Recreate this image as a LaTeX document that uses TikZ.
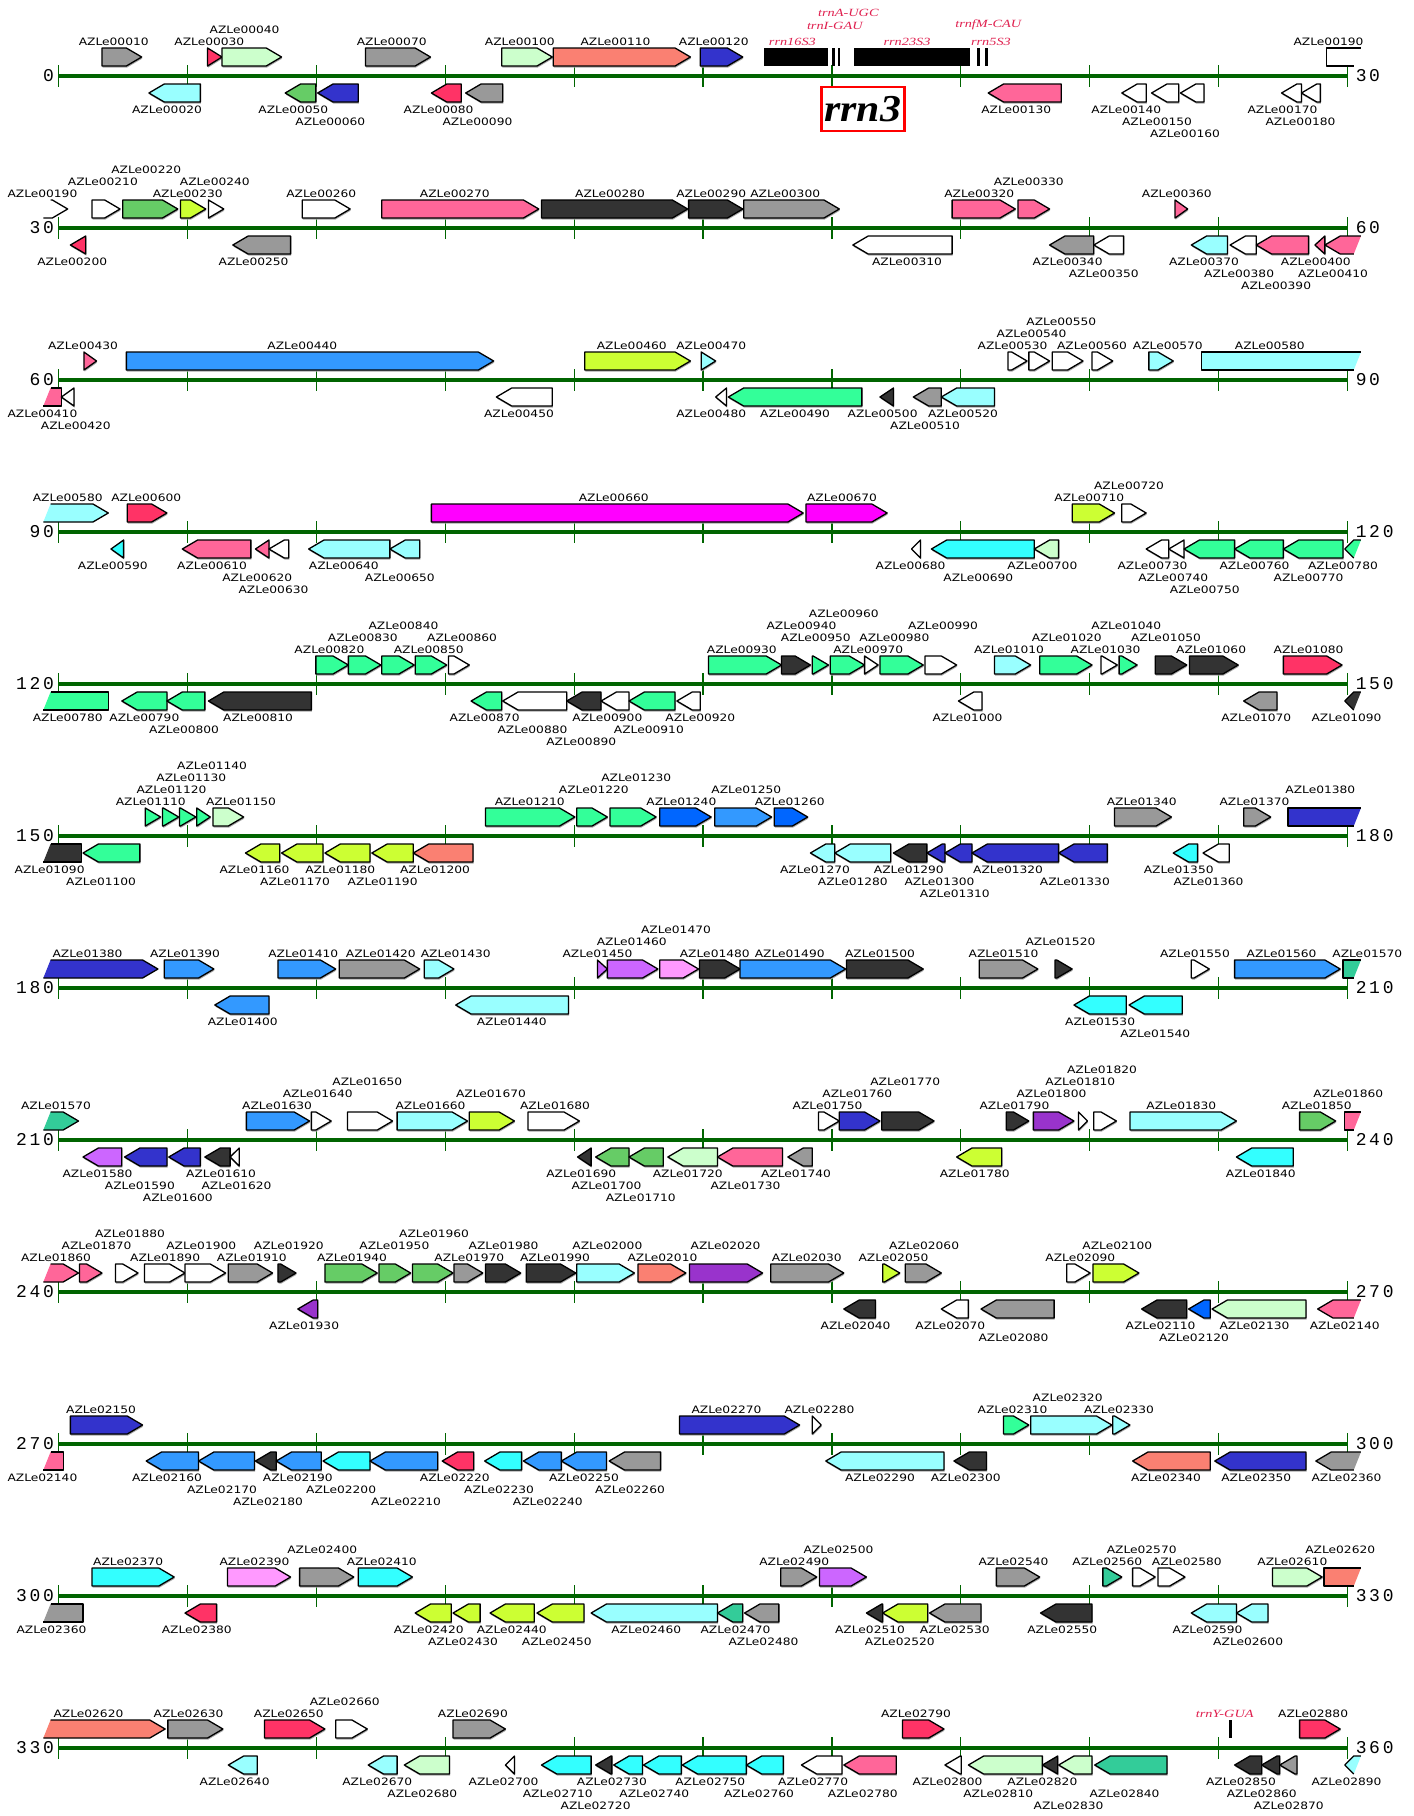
\documentclass[tikz,border=0pt]{standalone}
\usepackage{fontspec}
\usetikzlibrary{shadows}
\newfontfamily\lblfont[FakeStretch=1.2]{DejaVu Sans}
\newfontfamily\trnfont[FakeStretch=1.3]{Liberation Serif}
\newfontfamily\rrnfont[FakeStretch=1.1]{Liberation Serif}
\newfontfamily\numfont[LetterSpace=15]{Liberation Mono}
\definecolor{cgray}{HTML}{999999}
\definecolor{clcyan}{HTML}{99FFFF}
\definecolor{clgreen}{HTML}{CCFFCC}
\definecolor{csalmon}{HTML}{FA8072}
\definecolor{cblue}{HTML}{3333CC}
\definecolor{cred}{HTML}{FF3366}
\definecolor{cpink}{HTML}{FF6699}
\definecolor{cgreen}{HTML}{66CC66}
\definecolor{cyg}{HTML}{CCFF33}
\definecolor{cdark}{HTML}{333333}
\definecolor{cdblue}{HTML}{3399FF}
\definecolor{cmag}{HTML}{FF00FF}
\definecolor{ccyan}{HTML}{33FFFF}
\definecolor{cspring}{HTML}{33FF99}
\definecolor{cbblue}{HTML}{0066FF}
\definecolor{corchid}{HTML}{CC66FF}
\definecolor{clmag}{HTML}{FF99FF}
\definecolor{cdpurple}{HTML}{9933CC}
\definecolor{caqua}{HTML}{33CC99}
\definecolor{axisgreen}{HTML}{006400}
\definecolor{trnred}{HTML}{E0204F}
\tikzset{
  lbl/.style={font=\lblfont\fontsize{10.2}{11}\selectfont, inner sep=0pt, text=black},
  trn/.style={font=\trnfont\itshape\fontsize{11}{12}\selectfont, inner sep=0pt, text=trnred},
  num/.style={font=\numfont\fontsize{18}{18}\selectfont, inner sep=0pt},
  gshadow/.style={drop shadow={shadow xshift=0.6pt,shadow yshift=-1.6pt,opacity=1,fill=black!35}},
  gene/.style={draw=black, line width=1.3pt, line join=round, gshadow},
  genefill/.style={draw=none},
  geneline/.style={draw=black, line width=1.3pt, line join=round},
  axisline/.style={axisgreen, line width=4.5pt},
  tickline/.style={axisgreen, line width=1.3pt},
}
\newcommand\rowY{76}
\newcommand\gtop{\pgfmathsetmacro\gYt{\rowY-28}\pgfmathsetmacro\gYb{\rowY-10}\pgfmathsetmacro\gYm{\rowY-19}\def\gS{-1}}
\newcommand\gbot{\pgfmathsetmacro\gYt{\rowY+8}\pgfmathsetmacro\gYb{\rowY+26}\pgfmathsetmacro\gYm{\rowY+17}\def\gS{1}}
\newcommand\glab[3]{\pgfmathsetmacro\gLy{\rowY+\gS*(34+12*(#1-1))}\node[lbl] (g#3r\rowY) at (#2,\gLy) {AZLe#3};}
% plus strand
\newcommand\GP[6]{\gtop\pgfmathsetmacro\gXh{max(#1,#2-17)}%
  \path[gene,fill=#3] (#1,\gYt) -- (\gXh,\gYt) -- (#2,\gYm) -- (\gXh,\gYb) -- (#1,\gYb) -- cycle;\glab{#4}{#5}{#6}}
% minus strand
\newcommand\GM[6]{\gbot\pgfmathsetmacro\gXh{min(#2,#1+17)}%
  \path[gene,fill=#3] (#2,\gYt) -- (\gXh,\gYt) -- (#1,\gYm) -- (\gXh,\gYb) -- (#2,\gYb) -- cycle;\glab{#4}{#5}{#6}}
% plus strand, cut at right
\newcommand\GPR[6]{\gtop\pgfmathsetmacro\gXc{#2-8}%
  \path[genefill,fill=#3] (#1,\gYt) -- (#2,\gYt) -- (\gXc,\gYb) -- (#1,\gYb) -- cycle;
  \draw[geneline] (#2,\gYt) -- (#1,\gYt) -- (#1,\gYb) -- (\gXc,\gYb);\glab{#4}{#5}{#6}}
% plus strand, cut at left
\newcommand\GPL[6]{\gtop\pgfmathsetmacro\gXc{#1+8}\pgfmathsetmacro\gXh{max(#1+8,#2-17)}%
  \path[genefill,fill=#3] (\gXc,\gYt) -- (\gXh,\gYt) -- (#2,\gYm) -- (\gXh,\gYb) -- (#1,\gYb) -- cycle;
  \draw[geneline] (\gXc,\gYt) -- (\gXh,\gYt) -- (#2,\gYm) -- (\gXh,\gYb) -- (#1,\gYb);\glab{#4}{#5}{#6}}
% minus strand, cut at right
\newcommand\GMR[6]{\gbot\pgfmathsetmacro\gXc{#2-8}\pgfmathsetmacro\gXh{min(#1+17,#2-8)}%
  \path[genefill,fill=#3] (\gXh,\gYt) -- (#2,\gYt) -- (\gXc,\gYb) -- (\gXh,\gYb) -- (#1,\gYm) -- cycle;
  \draw[geneline] (#2,\gYt) -- (\gXh,\gYt) -- (#1,\gYm) -- (\gXh,\gYb) -- (\gXc,\gYb);\glab{#4}{#5}{#6}}
% minus strand, cut at left
\newcommand\GML[6]{\gbot\pgfmathsetmacro\gXc{#1+8}%
  \path[genefill,fill=#3] (\gXc,\gYt) -- (#2,\gYt) -- (#2,\gYb) -- (#1,\gYb) -- cycle;
  \draw[geneline] (\gXc,\gYt) -- (#2,\gYt) -- (#2,\gYb) -- (#1,\gYb);\glab{#4}{#5}{#6}}
\newcommand\drawrow[3]{\renewcommand\rowY{#1}%
  \draw[axisline] (65,#1) -- (1493,#1);
  \foreach \k in {0,...,10} {\draw[tickline] ({65+142.8*\k},#1-11) -- ({65+142.8*\k},#1+11);}
  \node[num,anchor=east] (numL#1) at (60,#1) {#2};
  \node[num,anchor=west] (numR#1) at (1502,#1) {#3};}
\begin{document}
\begin{tikzpicture}[x=0.9025pt,y=-1pt]
\useasboundingbox (0,0) rectangle (1566.7,1816);
\fill[white] (0,0) rectangle (1566.7,1816);
% ---------------- row 1
\drawrow{76}{0}{30}
\GP{113}{157}{cgray}{1}{126}{00010}
\GP{230}{246}{cred}{1}{232}{00030}
\GP{246}{312}{clgreen}{2}{271}{00040}
\GP{405}{477}{cgray}{1}{434}{00070}
\GP{556}{612}{clgreen}{1}{576}{00100}
\GP{613}{765}{csalmon}{1}{682}{00110}
\GP{776}{823}{cblue}{1}{791}{00120}
\GPR{1470}{1508}{white}{1}{1472}{00190}
\GM{165}{222}{clcyan}{1}{185}{00020}
\GM{316}{350}{cgreen}{1}{325}{00050}
\GM{352}{397}{cblue}{2}{366}{00060}
\GM{478}{511}{cred}{1}{486}{00080}
\GM{516}{557}{cgray}{2}{529}{00090}
\GM{1095}{1176}{cpink}{1}{1126}{00130}
\GM{1243}{1270}{white}{1}{1248}{00140}
\GM{1276}{1306}{white}{2}{1282}{00150}
\GM{1308}{1334}{white}{3}{1313}{00160}
\GM{1420}{1442}{white}{1}{1421}{00170}
\GM{1442}{1463}{white}{2}{1441}{00180}
\fill[black] (847,48) rectangle (917,66);
\fill[black] (922,48) rectangle (925,66);
\fill[black] (928,48) rectangle (931,66);
\fill[black] (946,48) rectangle (1075,66);
\fill[black] (1082,48) rectangle (1086,66);
\fill[black] (1091,48) rectangle (1095,66);
\node[trn] (t16S) at (878,42) {rrn16S3};
\node[trn] (tIGAU) at (925,25.5) {trnI-GAU};
\node[trn] (tAUGC) at (940,13) {trnA-UGC};
\node[trn] (t23S) at (1005,42) {rrn23S3};
\node[trn] (tfM) at (1095,24.5) {trnfM-CAU};
\node[trn] (t5S) at (1098,42) {rrn5S3};
\node[draw=red, line width=2.5pt, fill=white, minimum width=83pt, minimum height=44pt, inner sep=0pt,
      font=\rrnfont\bfseries\itshape\fontsize{38}{38}\selectfont] (rrnbox) at (956,109) {rrn3};
% ---------------- row 2
\drawrow{228}{30}{60}
\GPL{48}{75}{white}{1}{47}{00190}
\GP{102}{133}{white}{2}{114}{00210}
\GP{136}{197}{cgreen}{3}{162}{00220}
\GP{200}{228}{cyg}{1}{208}{00230}
\GP{231}{248}{white}{2}{238}{00240}
\GP{335}{388}{white}{1}{356}{00260}
\GP{423}{597}{cpink}{1}{504}{00270}
\GP{600}{762}{cdark}{1}{676}{00280}
\GP{763}{823}{cdark}{1}{788}{00290}
\GP{824}{930}{cgray}{1}{870}{00300}
\GP{1055}{1125}{cpink}{1}{1085}{00320}
\GP{1128}{1163}{cpink}{2}{1140}{00330}
\GP{1302}{1316}{cpink}{1}{1304}{00360}
\GM{78}{95}{cred}{1}{80}{00200}
\GM{258}{322}{cgray}{1}{281}{00250}
\GM{945}{1055}{white}{1}{1005}{00310}
\GM{1163}{1212}{cgray}{1}{1183}{00340}
\GM{1212}{1245}{white}{2}{1223}{00350}
\GM{1320}{1360}{clcyan}{1}{1334}{00370}
\GM{1363}{1392}{white}{2}{1373}{00380}
\GM{1392}{1450}{cpink}{3}{1414}{00390}
\GM{1457}{1468}{cpink}{1}{1458}{00400}
\GMR{1468}{1508}{cpink}{2}{1477}{00410}
% ---------------- row 3
\drawrow{380}{60}{90}
\GP{93}{107}{cpink}{1}{92}{00430}
\GP{140}{547}{cdblue}{1}{335}{00440}
\GP{648}{765}{cyg}{1}{700}{00460}
\GP{777}{793}{clcyan}{1}{788}{00470}
\GP{1117}{1138}{white}{1}{1122}{00530}
\GP{1140}{1163}{white}{2}{1143}{00540}
\GP{1166}{1200}{white}{3}{1176}{00550}
\GP{1210}{1233}{white}{1}{1210}{00560}
\GP{1273}{1300}{clcyan}{1}{1294}{00570}
\GPR{1331}{1508}{clcyan}{1}{1407}{00580}
\GML{48}{68}{cpink}{1}{47}{00410}
\GM{68}{82}{white}{2}{84}{00420}
\GM{550}{612}{white}{1}{575}{00450}
\GM{793}{805}{white}{1}{788}{00480}
\GM{807}{955}{cspring}{1}{881}{00490}
\GM{975}{990}{cdark}{1}{978}{00500}
\GM{1012}{1043}{cgray}{2}{1025}{00510}
\GM{1043}{1102}{clcyan}{1}{1067}{00520}
% ---------------- row 4
\drawrow{532}{90}{120}
\GPL{48}{120}{clcyan}{1}{75}{00580}
\GP{141}{185}{cred}{1}{162}{00600}
\GP{478}{890}{cmag}{1}{680}{00660}
\GP{893}{983}{cmag}{1}{933}{00670}
\GP{1188}{1235}{cyg}{1}{1207}{00710}
\GP{1243}{1270}{white}{2}{1251}{00720}
\GM{123}{137}{ccyan}{1}{125}{00590}
\GM{202}{278}{cpink}{1}{235}{00610}
\GM{283}{298}{cpink}{2}{285}{00620}
\GM{298}{320}{white}{3}{303}{00630}
\GM{342}{432}{clcyan}{1}{381}{00640}
\GM{432}{465}{clcyan}{2}{443}{00650}
\GM{1010}{1020}{white}{1}{1009}{00680}
\GM{1032}{1146}{ccyan}{2}{1084}{00690}
\GM{1146}{1173}{clgreen}{1}{1155}{00700}
\GM{1270}{1295}{white}{1}{1277}{00730}
\GM{1295}{1312}{white}{2}{1300}{00740}
\GM{1312}{1368}{cspring}{3}{1335}{00750}
\GM{1368}{1422}{cspring}{1}{1390}{00760}
\GM{1422}{1488}{cspring}{2}{1450}{00770}
\GMR{1490}{1508}{cspring}{1}{1488}{00780}
% ---------------- row 5
\drawrow{684}{120}{150}
\GP{350}{386}{cspring}{1}{365}{00820}
\GP{386}{422}{cspring}{2}{402}{00830}
\GP{423}{459}{cspring}{3}{447}{00840}
\GP{460}{495}{cspring}{1}{475}{00850}
\GP{497}{520}{white}{2}{512}{00860}
\GP{785}{866}{cspring}{1}{822}{00930}
\GP{866}{898}{cdark}{3}{888}{00940}
\GP{900}{918}{cspring}{2}{904}{00950}
\GP{920}{958}{cspring}{4}{935}{00960}
\GP{958}{973}{white}{1}{962}{00970}
\GP{975}{1023}{cspring}{2}{991}{00980}
\GP{1025}{1060}{white}{3}{1045}{00990}
\GP{1102}{1142}{clcyan}{1}{1118}{01010}
\GP{1152}{1210}{cspring}{2}{1182}{01020}
\GP{1220}{1238}{white}{1}{1225}{01030}
\GP{1240}{1260}{cspring}{3}{1248}{01040}
\GP{1280}{1315}{cdark}{2}{1292}{01050}
\GP{1318}{1372}{cdark}{1}{1342}{01060}
\GP{1422}{1487}{cred}{1}{1450}{01080}
\GML{48}{120}{cspring}{1}{75}{00780}
\GM{135}{185}{cspring}{1}{160}{00790}
\GM{185}{227}{cspring}{2}{204}{00800}
\GM{231}{345}{cdark}{1}{286}{00810}
\GM{522}{556}{cspring}{1}{537}{00870}
\GM{557}{628}{white}{2}{590}{00880}
\GM{628}{666}{cdark}{3}{644}{00890}
\GM{666}{697}{white}{1}{673}{00900}
\GM{697}{748}{cspring}{2}{719}{00910}
\GM{750}{776}{white}{1}{776}{00920}
\GM{1062}{1088}{white}{1}{1072}{01000}
\GM{1378}{1415}{cgray}{1}{1392}{01070}
\GMR{1490}{1508}{cdark}{1}{1492}{01090}
% ---------------- row 6
\drawrow{836}{150}{180}
\GP{161}{178}{cspring}{1}{167}{01110}
\GP{180}{198}{cspring}{2}{190}{01120}
\GP{199}{217}{cspring}{3}{212}{01130}
\GP{218}{233}{cspring}{4}{235}{01140}
\GP{236}{270}{clgreen}{1}{267}{01150}
\GP{538}{637}{cspring}{1}{587}{01210}
\GP{639}{673}{cspring}{2}{658}{01220}
\GP{676}{727}{cspring}{3}{705}{01230}
\GP{731}{788}{cbblue}{1}{755}{01240}
\GP{792}{855}{cdblue}{2}{827}{01250}
\GP{858}{895}{cbblue}{1}{875}{01260}
\GP{1235}{1298}{cgray}{1}{1265}{01340}
\GP{1378}{1408}{cgray}{1}{1390}{01370}
\GPR{1427}{1508}{cblue}{2}{1463}{01380}
\GML{48}{90}{cdark}{1}{55}{01090}
\GM{92}{155}{cspring}{2}{112}{01100}
\GM{272}{310}{cyg}{1}{282}{01160}
\GM{312}{358}{cyg}{2}{327}{01170}
\GM{360}{410}{cyg}{1}{377}{01180}
\GM{412}{458}{cyg}{2}{424}{01190}
\GM{458}{524}{csalmon}{1}{482}{01200}
\GM{898}{925}{clcyan}{1}{903}{01270}
\GM{925}{987}{clcyan}{2}{945}{01280}
\GM{990}{1027}{cdark}{1}{1007}{01290}
\GM{1027}{1047}{cblue}{2}{1041}{01300}
\GM{1047}{1077}{cblue}{3}{1058}{01310}
\GM{1077}{1173}{cblue}{1}{1117}{01320}
\GM{1173}{1227}{cblue}{2}{1191}{01330}
\GM{1300}{1327}{ccyan}{1}{1306}{01350}
\GM{1333}{1362}{white}{2}{1339}{01360}
% ---------------- row 7
\drawrow{988}{180}{210}
\GPL{48}{175}{cblue}{1}{97}{01380}
\GP{182}{237}{cdblue}{1}{205}{01390}
\GP{308}{372}{cdblue}{1}{336}{01410}
\GP{376}{465}{cgray}{1}{422}{01420}
\GP{470}{503}{clcyan}{1}{505}{01430}
\GP{662}{673}{corchid}{1}{662}{01450}
\GP{673}{729}{corchid}{2}{700}{01460}
\GP{731}{774}{clmag}{3}{749}{01470}
\GP{775}{820}{cdark}{1}{792}{01480}
\GP{820}{937}{cdblue}{1}{875}{01490}
\GP{938}{1023}{cdark}{1}{975}{01500}
\GP{1085}{1150}{cgray}{1}{1112}{01510}
\GP{1169}{1188}{cdark}{2}{1175}{01520}
\GP{1320}{1340}{white}{1}{1324}{01550}
\GP{1368}{1485}{cdblue}{1}{1420}{01560}
\GPR{1488}{1508}{caqua}{1}{1515}{01570}
\GM{238}{298}{cdblue}{1}{269}{01400}
\GM{505}{630}{clcyan}{1}{567}{01440}
\GM{1190}{1248}{ccyan}{1}{1219}{01530}
\GM{1251}{1310}{ccyan}{2}{1280}{01540}
% ---------------- row 8
\drawrow{1140}{210}{240}
\GPL{48}{87}{caqua}{1}{62}{01570}
\GP{273}{343}{cdblue}{1}{307}{01630}
\GP{345}{367}{white}{2}{352}{01640}
\GP{385}{435}{white}{3}{407}{01650}
\GP{440}{518}{clcyan}{1}{477}{01660}
\GP{520}{570}{cyg}{2}{544}{01670}
\GP{585}{642}{white}{1}{615}{01680}
\GP{907}{930}{white}{1}{917}{01750}
\GP{930}{975}{cblue}{2}{950}{01760}
\GP{977}{1035}{cdark}{3}{1003}{01770}
\GP{1115}{1140}{cdark}{1}{1124}{01790}
\GP{1145}{1190}{cdpurple}{2}{1165}{01800}
\GP{1195}{1205}{white}{3}{1197}{01810}
\GP{1212}{1237}{white}{4}{1221}{01820}
\GP{1252}{1370}{clcyan}{1}{1309}{01830}
\GP{1440}{1480}{cgreen}{1}{1459}{01850}
\GPR{1490}{1508}{cpink}{2}{1494}{01860}
\GM{92}{135}{corchid}{1}{108}{01580}
\GM{138}{185}{cblue}{2}{155}{01590}
\GM{187}{222}{cblue}{3}{197}{01600}
\GM{227}{255}{cdark}{1}{245}{01610}
\GM{255}{265}{white}{2}{262}{01620}
\GM{640}{655}{cdark}{1}{644}{01690}
\GM{660}{697}{cgreen}{2}{672}{01700}
\GM{697}{735}{cgreen}{3}{710}{01710}
\GM{740}{795}{clgreen}{1}{762}{01720}
\GM{795}{867}{cpink}{2}{826}{01730}
\GM{873}{900}{cgray}{1}{882}{01740}
\GM{1060}{1110}{cyg}{1}{1080}{01780}
\GM{1370}{1433}{ccyan}{1}{1397}{01840}
% ---------------- row 9
\drawrow{1292}{240}{270}
\GPL{48}{87}{cpink}{1}{62}{01860}
\GP{88}{113}{cpink}{2}{107}{01870}
\GP{128}{153}{white}{3}{144}{01880}
\GP{160}{205}{white}{1}{183}{01890}
\GP{205}{250}{white}{2}{223}{01900}
\GP{253}{302}{cgray}{1}{279}{01910}
\GP{308}{328}{cdark}{2}{320}{01920}
\GP{360}{418}{cgreen}{1}{390}{01940}
\GP{420}{455}{cgreen}{2}{437}{01950}
\GP{457}{502}{cgreen}{3}{481}{01960}
\GP{503}{535}{cgray}{1}{520}{01970}
\GP{538}{577}{cdark}{2}{558}{01980}
\GP{583}{638}{cdark}{1}{615}{01990}
\GP{639}{703}{clcyan}{2}{673}{02000}
\GP{707}{760}{csalmon}{1}{734}{02010}
\GP{764}{845}{cdpurple}{2}{804}{02020}
\GP{854}{935}{cgray}{1}{894}{02030}
\GP{978}{997}{cyg}{1}{990}{02050}
\GP{1003}{1043}{cgray}{2}{1024}{02060}
\GP{1182}{1208}{white}{1}{1197}{02090}
\GP{1211}{1262}{cyg}{2}{1238}{02100}
\GM{330}{352}{cdpurple}{1}{337}{01930}
\GM{935}{970}{cdark}{1}{948}{02040}
\GM{1043}{1073}{white}{1}{1053}{02070}
\GM{1087}{1168}{cgray}{2}{1123}{02080}
\GM{1265}{1315}{cdark}{1}{1286}{02110}
\GM{1317}{1341}{cbblue}{2}{1323}{02120}
\GM{1343}{1447}{clgreen}{1}{1390}{02130}
\GMR{1460}{1508}{cpink}{1}{1490}{02140}
% ---------------- row 10
\drawrow{1444}{270}{300}
\GP{78}{158}{cblue}{1}{112}{02150}
\GP{753}{886}{cblue}{1}{805}{02270}
\GP{900}{910}{white}{1}{908}{02280}
\GP{1112}{1140}{cspring}{1}{1122}{02310}
\GP{1142}{1232}{clcyan}{2}{1183}{02320}
\GP{1233}{1252}{clcyan}{1}{1240}{02330}
\GML{48}{70}{cpink}{1}{47}{02140}
\GM{162}{220}{cdblue}{1}{185}{02160}
\GM{220}{282}{cdblue}{2}{246}{02170}
\GM{283}{306}{cdark}{3}{297}{02180}
\GM{306}{356}{cdblue}{1}{330}{02190}
\GM{358}{410}{ccyan}{2}{378}{02200}
\GM{410}{485}{cdblue}{3}{450}{02210}
\GM{490}{525}{cred}{1}{504}{02220}
\GM{537}{578}{ccyan}{2}{553}{02230}
\GM{580}{622}{cdblue}{3}{607}{02240}
\GM{622}{672}{cdblue}{1}{647}{02250}
\GM{675}{732}{cgray}{2}{698}{02260}
\GM{915}{1046}{clcyan}{1}{975}{02290}
\GM{1057}{1093}{cdark}{1}{1070}{02300}
\GM{1255}{1341}{csalmon}{1}{1292}{02340}
\GM{1346}{1447}{cblue}{1}{1392}{02350}
\GMR{1458}{1508}{cgray}{1}{1492}{02360}
% ---------------- row 11
\drawrow{1596}{300}{330}
\GP{102}{193}{ccyan}{1}{142}{02370}
\GP{252}{322}{clmag}{1}{282}{02390}
\GP{332}{392}{cgray}{2}{357}{02400}
\GP{397}{457}{ccyan}{1}{423}{02410}
\GP{865}{905}{cgray}{1}{880}{02490}
\GP{908}{960}{corchid}{2}{929}{02500}
\GP{1104}{1152}{cgray}{1}{1123}{02540}
\GP{1222}{1243}{caqua}{1}{1227}{02560}
\GP{1255}{1280}{white}{2}{1265}{02570}
\GP{1283}{1313}{white}{1}{1315}{02580}
\GP{1410}{1465}{clgreen}{1}{1432}{02610}
\GPR{1467}{1508}{csalmon}{2}{1485}{02620}
\GML{48}{92}{cgray}{1}{57}{02360}
\GM{205}{240}{cred}{1}{218}{02380}
\GM{460}{500}{cyg}{1}{475}{02420}
\GM{502}{532}{cyg}{2}{513}{02430}
\GM{543}{592}{cyg}{1}{567}{02440}
\GM{595}{647}{cyg}{2}{617}{02450}
\GM{655}{795}{clcyan}{1}{716}{02460}
\GM{795}{823}{caqua}{1}{815}{02470}
\GM{825}{863}{cgray}{2}{846}{02480}
\GM{960}{978}{cdark}{1}{964}{02510}
\GM{978}{1028}{cyg}{2}{997}{02520}
\GM{1030}{1087}{cgray}{1}{1058}{02530}
\GM{1153}{1210}{cdark}{1}{1177}{02550}
\GM{1320}{1370}{clcyan}{1}{1338}{02590}
\GM{1370}{1405}{clcyan}{2}{1383}{02600}
% ---------------- row 12
\drawrow{1748}{330}{360}
\GPL{48}{183}{csalmon}{1}{98}{02620}
\GP{186}{247}{cgray}{1}{209}{02630}
\GP{293}{360}{cred}{1}{320}{02650}
\GP{372}{407}{white}{2}{382}{02660}
\GP{502}{560}{cgray}{1}{524}{02690}
\GP{1000}{1046}{cred}{1}{1015}{02790}
\GP{1440}{1485}{cred}{1}{1455}{02880}
\fill[black] (1362,1720) rectangle (1365,1738);
\node[trn] (tYGUA) at (1357,1714) {trnY-GUA};
\GM{253}{285}{clcyan}{1}{260}{02640}
\GM{408}{440}{clcyan}{1}{418}{02670}
\GM{448}{498}{clgreen}{2}{468}{02680}
\GM{560}{570}{white}{1}{558}{02700}
\GM{600}{655}{ccyan}{2}{618}{02710}
\GM{660}{678}{cdark}{3}{660}{02720}
\GM{680}{712}{ccyan}{1}{678}{02730}
\GM{713}{755}{ccyan}{2}{725}{02740}
\GM{756}{827}{ccyan}{1}{787}{02750}
\GM{827}{868}{ccyan}{2}{841}{02760}
\GM{888}{933}{white}{1}{901}{02770}
\GM{935}{993}{cpink}{2}{956}{02780}
\GM{1047}{1065}{white}{1}{1050}{02800}
\GM{1073}{1155}{clgreen}{2}{1106}{02810}
\GM{1155}{1172}{cdark}{1}{1155}{02820}
\GM{1173}{1210}{clgreen}{3}{1184}{02830}
\GM{1213}{1293}{caqua}{2}{1246}{02840}
\GM{1368}{1398}{cdark}{1}{1375}{02850}
\GM{1398}{1418}{cdark}{2}{1398}{02860}
\GM{1418}{1437}{cgray}{3}{1428}{02870}
\GMR{1490}{1508}{clcyan}{1}{1492}{02890}
\end{tikzpicture}
\end{document}
